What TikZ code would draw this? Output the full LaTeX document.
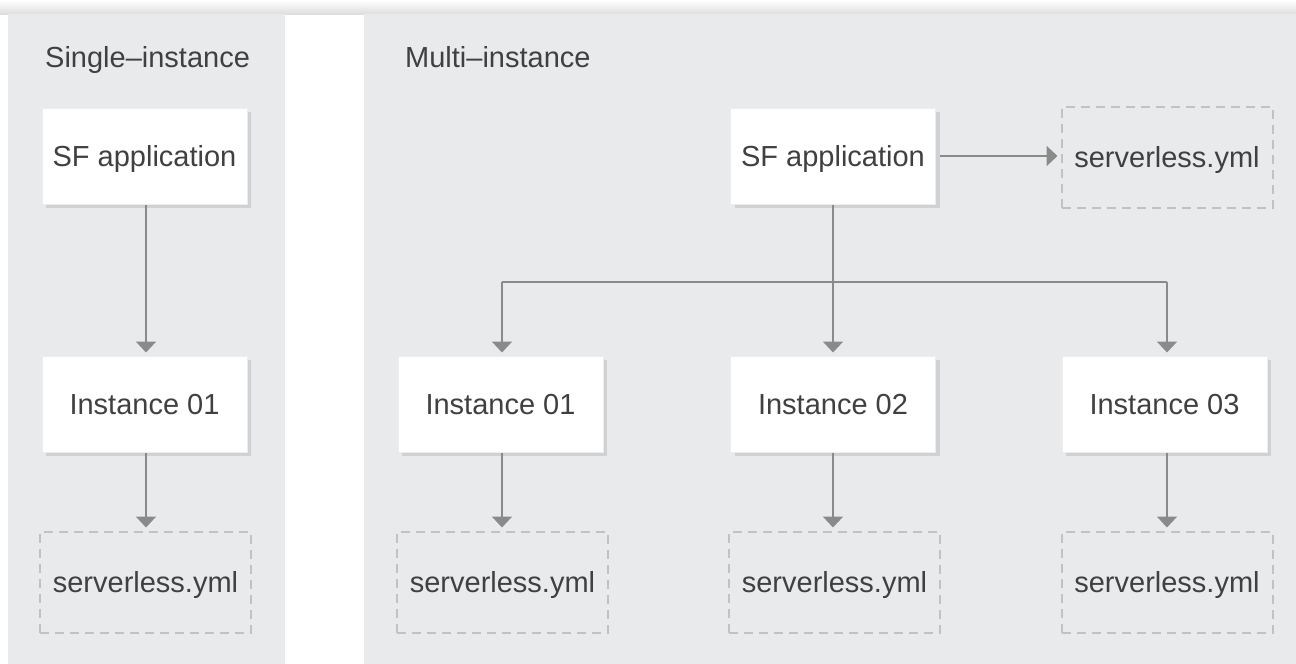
\documentclass[tikz,border=0pt]{standalone}
\usepackage{fontspec}
\setmainfont{Liberation Sans}
\usetikzlibrary{arrows.meta,shadows,calc}
\definecolor{panel}{HTML}{E9EAEC}
\definecolor{shadowc}{HTML}{D0D1D3}
\definecolor{arrowc}{HTML}{8A8A8A}
\definecolor{dashc}{HTML}{C2C2C2}
\definecolor{txt}{HTML}{404040}
\definecolor{boxedge}{HTML}{EDEDED}
\begin{document}
\begin{tikzpicture}[x=1pt,y=-1pt,
  every node/.style={font=\fontsize{29}{33}\selectfont, text=txt},
  solidbox/.style={draw=boxedge, line width=1pt, fill=white, minimum width=205pt, minimum height=96pt, inner sep=0pt,
    text height=21pt, text depth=0pt,
    general shadow={fill=shadowc, shadow xshift=4pt, shadow yshift=-4pt}},
  dashbox/.style={draw=dashc, line width=2pt, dash pattern=on 9pt off 6pt, minimum width=211pt, minimum height=101pt, inner sep=0pt,
    text height=21pt, text depth=0pt},
  heading/.style={anchor=base west, inner sep=0pt},
  arr/.style={draw=arrowc, line width=2pt, -{Triangle[width=20pt,length=11pt]}, shorten >=3pt},
  link/.style={draw=arrowc, line width=2pt}
]
\useasboundingbox (0,0) rectangle (1296,664);
% top shadow band and panels
\shade[top color=white, middle color=white!96!black, bottom color=black!13] (0,0) rectangle (1296,14);
\fill[panel] (8,14) rectangle (285,664);
\fill[panel] (364,14) rectangle (1296,664);

% headings
\node[heading] (hs) at (45,67) {Single–instance};
\node[heading] (hm) at (405,67) {Multi–instance};

% single-instance column
\node[solidbox] (sapp) at (144.5,156) {SF application};
\node[solidbox] (sinst) at (144.5,404) {Instance 01};
\node[dashbox] (syml) at (145.5,582) {serverless.yml};

% multi-instance
\node[solidbox] (mapp) at (833,156) {SF application};
\node[dashbox] (myml) at (1167,157) {serverless.yml};
\node[solidbox] (i1) at (500.5,404) {Instance 01};
\node[solidbox] (i2) at (833,404) {Instance 02};
\node[solidbox] (i3) at (1164.5,404) {Instance 03};
\node[dashbox] (y1) at (502.5,582) {serverless.yml};
\node[dashbox] (y2) at (834.5,582) {serverless.yml};
\node[dashbox] (y3) at (1167,582) {serverless.yml};

\coordinate (bl) at (502,282);
\coordinate (br) at (1167,282);

% connectors
\draw[arr] (sapp.south -| 146,0) -- (sinst.north -| 146,0);
\draw[arr] (sinst.south -| 146,0) -- (syml.north -| 146,0);

\draw[arr] ([xshift=4pt]mapp.east) -- (mapp.east -| myml.west);
\draw[arr] (mapp.south) -- (i2.north -| mapp.south);
\draw[link] (bl) -- (br);
\draw[arr] (bl) -- (i1.north -| bl);
\draw[arr] (br) -- (i3.north -| br);

\draw[arr] (i1.south -| bl) -- (y1.north -| bl);
\draw[arr] (i2.south -| mapp.south) -- (y2.north -| mapp.south);
\draw[arr] (i3.south -| br) -- (y3.north -| br);
\end{tikzpicture}
\end{document}
